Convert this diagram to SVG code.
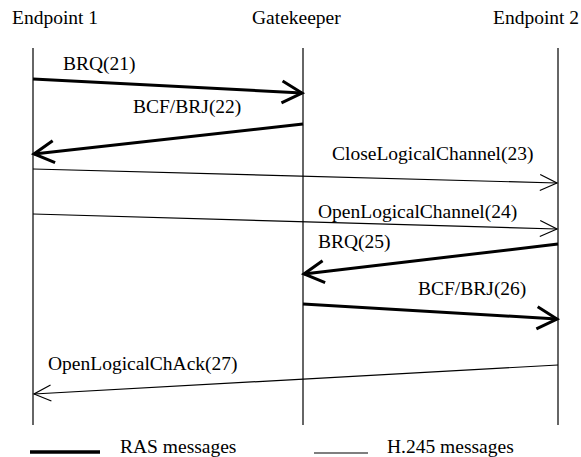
<svg xmlns="http://www.w3.org/2000/svg" width="581" height="457" viewBox="0 0 581 457">
  <style>
    text { font-family: "Liberation Serif", "Times New Roman", serif; font-size: 19.5px; fill: #000; }
    .life { stroke: #333; stroke-width: 1.5; fill: none; }
    .ras { stroke: #000; stroke-width: 3; fill: none; }
    .h245 { stroke: #000; stroke-width: 1.2; fill: none; }
  </style>
  <defs>
    <!-- open arrowheads: heavy for RAS, light for H.245 -->
    <marker id="headRas" markerUnits="userSpaceOnUse" orient="auto" refX="0" refY="0"
            markerWidth="30" markerHeight="30" viewBox="-24 -15 30 30" overflow="visible">
      <path d="M-20,-11 L0,0 L-20,11" fill="none" stroke="#000" stroke-width="3"/>
    </marker>
    <marker id="headH245" markerUnits="userSpaceOnUse" orient="auto" refX="0" refY="0"
            markerWidth="30" markerHeight="30" viewBox="-24 -15 30 30" overflow="visible">
      <path d="M-17,-8 L0,0 L-17,8" fill="none" stroke="#000" stroke-width="1.2"/>
    </marker>
  </defs>

  <!-- participants -->
  <g id="endpoint1">
    <text x="12" y="24">Endpoint 1</text>
    <line class="life" x1="33" y1="48" x2="33" y2="425"/>
  </g>
  <g id="gatekeeper">
    <text x="252" y="24">Gatekeeper</text>
    <line class="life" x1="303" y1="48" x2="303" y2="425"/>
  </g>
  <g id="endpoint2">
    <text x="493" y="24">Endpoint 2</text>
    <line class="life" x1="558" y1="48" x2="558" y2="425"/>
  </g>

  <!-- messages -->
  <g id="connectors">
    <line class="ras" x1="33" y1="79" x2="302" y2="93" marker-end="url(#headRas)"/>
    <text x="63" y="70">BRQ(21)</text>

    <line class="ras" x1="303" y1="124" x2="34" y2="154" marker-end="url(#headRas)"/>
    <text x="133" y="113">BCF/BRJ(22)</text>

    <line class="h245" x1="33" y1="169" x2="557" y2="183" marker-end="url(#headH245)"/>
    <text x="332" y="160">CloseLogicalChannel(23)</text>

    <line class="h245" x1="33" y1="214" x2="557" y2="229" marker-end="url(#headH245)"/>
    <text x="318" y="218">OpenLogicalChannel(24)</text>

    <line class="ras" x1="558" y1="244" x2="304" y2="274" marker-end="url(#headRas)"/>
    <text x="318" y="248">BRQ(25)</text>

    <line class="ras" x1="303" y1="304" x2="557" y2="319" marker-end="url(#headRas)"/>
    <text x="418" y="295">BCF/BRJ(26)</text>

    <line class="h245" x1="558" y1="365" x2="34" y2="394" marker-end="url(#headH245)"/>
    <text x="48" y="370">OpenLogicalChAck(27)</text>
  </g>

  <!-- legend -->
  <g id="legend">
    <line x1="30" y1="452" x2="100" y2="452" stroke="#000" stroke-width="3.5"/>
    <text x="120" y="453">RAS messages</text>
    <line x1="314" y1="453" x2="368" y2="453" stroke="#000" stroke-width="1.2"/>
    <text x="387" y="453">H.245 messages</text>
  </g>
</svg>
